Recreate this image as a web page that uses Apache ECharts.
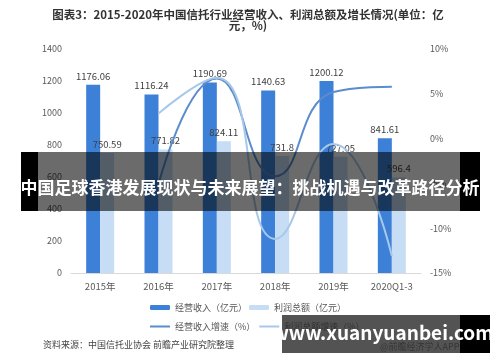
<!DOCTYPE html>
<html><head><meta charset="utf-8">
<script src="https://cdn.jsdelivr.net/npm/echarts@6/dist/echarts.min.js"></script>
<style>html,body{margin:0;padding:0;background:#fff}#c{width:500px;height:362px}</style>
</head><body><div id="c"></div>
<script>
var categories = ['2015年','2016年','2017年','2018年','2019年','2020Q1-3'];
var revenue = [1176.06, 1116.24, 1190.69, 1140.63, 1200.12, 841.61];
var profitValues = [750.59, 771.82, 824.11, 731.8, 727.05, 596.4];
var revenueGrowth = [null, -5.1, 6.7, -4.2, 5.2, 5.8];
var profitGrowth = [null, 2.8, 6.8, -11.2, -0.6, -13.1];
var leftTicks = {min: 0, max: 1400, interval: 200};
var rightTicks = {min: -15, max: 10, interval: 5};

var FONT = '"Noto Sans CJK SC", "Noto Sans", sans-serif';
var chart = echarts.init(document.getElementById('c'), null, {renderer: 'canvas'});
var barLabel = {show: true, position: 'top', fontSize: 9.5, color: '#404040', fontFamily: FONT, distance: 4};
var lineLabel = function(){ return {show: true, position: 'right', fontSize: 9.5, color: '#404040', fontFamily: FONT, formatter: function(p){return p.value==null?'':p.value+'%';}}; };
chart.setOption({
  animation: false,
  backgroundColor: '#fff',
  textStyle: {fontFamily: FONT},
  grid: {left: 71, right: 79, top: 49, bottom: 89, containLabel: false},
  legend: [{
    data: ['经营收入（亿元）', '利润总额（亿元）'],
    left: 145, top: 298, itemWidth: 20, itemHeight: 5, itemGap: 2,
    textStyle: {fontSize: 9, color: '#555', fontFamily: FONT}
  }, {
    data: ['经营收入增速（%）', '利润总额增速（%）'],
    left: 145, top: 317, itemWidth: 20, itemHeight: 2, itemGap: 4, icon: 'rect',
    textStyle: {fontSize: 9, color: '#555', fontFamily: FONT}
  }],
  xAxis: {
    type: 'category', data: categories,
    axisLine: {lineStyle: {color: '#d9d9d9'}}, axisTick: {show: false},
    axisLabel: {fontSize: 9.5, color: '#595959', margin: 9, fontFamily: FONT}
  },
  yAxis: [{
    type: 'value', min: leftTicks.min, max: leftTicks.max, interval: leftTicks.interval,
    splitLine: {show: false}, axisLine: {show: false}, axisTick: {show: false},
    axisLabel: {fontSize: 9, color: '#595959', margin: 9, fontFamily: FONT, formatter: function(v){return String(v);}}
  }, {
    type: 'value', min: rightTicks.min, max: rightTicks.max, interval: rightTicks.interval,
    splitLine: {show: false}, axisLine: {show: false}, axisTick: {show: false},
    axisLabel: {fontSize: 9, color: '#595959', margin: 9, formatter: '{value}%', fontFamily: FONT}
  }],
  series: [{
    name: '经营收入（亿元）', type: 'bar', data: revenue, barWidth: 14, barGap: '0%',
    itemStyle: {color: '#3d80d8'}, label: barLabel
  }, {
    name: '利润总额（亿元）', type: 'bar', data: profitValues, barWidth: 14, barGap: '0%',
    itemStyle: {color: '#c6ddf5'}, label: barLabel
  }, {
    name: '经营收入增速（%）', type: 'line', yAxisIndex: 1, data: revenueGrowth, smooth: 0.5,
    symbol: 'none', lineStyle: {width: 2, color: '#5b8ccb'}, itemStyle: {color: '#5b8ccb'}, label: lineLabel()
  }, {
    name: '利润总额增速（%）', type: 'line', yAxisIndex: 1, data: profitGrowth, smooth: 0.5,
    symbol: 'none', lineStyle: {width: 2, color: '#a8c8ea'}, itemStyle: {color: '#a8c8ea'}, label: lineLabel()
  }],
  graphic: [
    {type: 'text', x: 248, y: 15, z: 50, style: {text: '图表3：2015-2020年中国信托行业经营收入、利润总额及增长情况(单位：亿', fill: '#333', font: 'bold 11.5px ' + FONT, textAlign: 'center', textVerticalAlign: 'middle'}},
    {type: 'text', x: 248, y: 26, z: 50, style: {text: '元，%)', fill: '#333', font: 'bold 11.5px ' + FONT, textAlign: 'center', textVerticalAlign: 'middle'}},
    {type: 'rect', shape: {x: 21, y: 152, width: 17, height: 59}, style: {fill: '#000'}, z: 100},
    {type: 'rect', shape: {x: 460, y: 152, width: 20, height: 59}, style: {fill: '#000'}, z: 100},
    {type: 'rect', shape: {x: 38, y: 152, width: 422, height: 59}, style: {fill: 'rgba(0,0,0,0.58)'}, z: 100},
    {type: 'text', x: 250, y: 188, z: 101, style: {text: '中国足球香港发展现状与未来展望：挑战机遇与改革路径分析', fill: '#fff', font: 'bold 17px ' + FONT, textAlign: 'center', textVerticalAlign: 'middle'}},
    {type: 'text', x: 43, y: 345, z: 50, style: {text: '资料来源：中国信托业协会 前瞻产业研究院整理', fill: '#444', font: '9px ' + FONT, textVerticalAlign: 'middle'}},
    {type: 'text', x: 380, y: 347, z: 50, style: {text: '@前瞻经济学人APP', fill: '#666', font: '9px ' + FONT, textVerticalAlign: 'middle'}},
    {type: 'rect', shape: {x: 282, y: 315, width: 178, height: 38}, style: {fill: 'rgba(40,40,40,0.8)'}, z: 100},
    {type: 'rect', shape: {x: 460, y: 315, width: 30, height: 38}, style: {fill: '#000'}, z: 100},
    {type: 'text', x: 383, y: 333, z: 101, style: {text: 'www.xuanyuanbei.com', fill: '#fff', font: 'bold 19px ' + FONT, textAlign: 'center', textVerticalAlign: 'middle'}}
  ]
});
</script></body></html>
